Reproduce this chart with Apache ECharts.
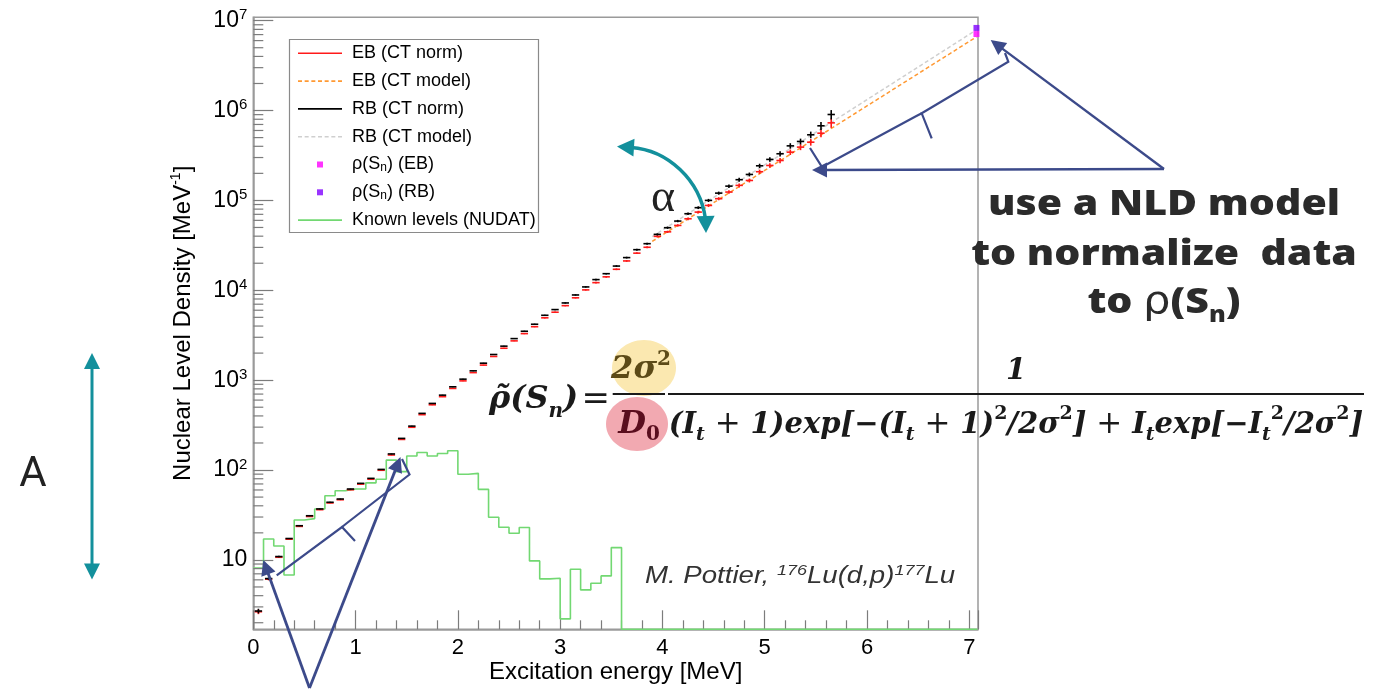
<!DOCTYPE html>
<html>
<head>
<meta charset="utf-8">
<title>Nuclear level density of 177Lu</title>
<script src="https://cdn.jsdelivr.net/npm/echarts@6/dist/echarts.min.js"></script>
<style>
  html, body { margin: 0; padding: 0; background: #fff; }
  #chart { width: 1381px; height: 690px; }
</style>
</head>
<body>
<div id="chart"></div>
<script>
// ---- Data -----------------------------------------------------------------
// Excitation-energy bin centres [MeV]
const binCentres = [
  0.05, 0.15, 0.25, 0.35, 0.45, 0.55, 0.65, 0.75, 0.85, 0.95,
  1.05, 1.15, 1.25, 1.35, 1.45, 1.55, 1.65, 1.75, 1.85, 1.95,
  2.05, 2.15, 2.25, 2.35, 2.45, 2.55, 2.65, 2.75, 2.85, 2.95,
  3.05, 3.15, 3.25, 3.35, 3.45, 3.55, 3.65, 3.75, 3.85, 3.95,
  4.05, 4.15, 4.25, 4.35, 4.45, 4.55, 4.65, 4.75, 4.85, 4.95,
  5.05, 5.15, 5.25, 5.35, 5.45, 5.55, 5.65
];
// RB, normalised with the constant-temperature model [MeV^-1]
const rbNorm = [
  2.7, 6.2, 10.9, 17.3, 24.0, 31.0, 36.9, 43.8, 47.6, 61.5,
  71.1, 80.8, 101.6, 151, 225, 308, 427, 551, 681, 843,
  1026, 1270, 1545, 1930, 2390, 2900, 3500, 4190, 5270, 6100,
  7230, 8870, 10900, 13150, 15300, 18600, 23100, 28300, 33000, 41900,
  49700, 58900, 71100, 83000, 100000, 120500, 144200, 170000, 194500, 242700,
  285800, 330400, 404600, 452900, 537000, 676000, 903600
];
// EB, normalised with the constant-temperature model [MeV^-1]
const ebNorm = [
  2.65, 6.1, 10.7, 17.0, 23.6, 30.4, 36.2, 43.0, 46.7, 60.3,
  69.7, 79.0, 99.4, 147, 219, 299, 413, 532, 655, 809,
  982, 1213, 1471, 1835, 2265, 2736, 3295, 3934, 4939, 5700,
  6745, 8250, 10100, 12165, 14115, 17130, 21210, 25890, 30110, 39800,
  44700, 52700, 62500, 74100, 87900, 104500, 123900, 147000, 166700, 208500,
  244900, 277900, 344300, 391800, 444500, 559600, 729300
];
// Relative statistical uncertainty of each bin
const relErr = [
  0.06, 0.03, 0.02, 0.015, 0.012, 0.01, 0.01, 0.01, 0.01, 0.01,
  0.01, 0.01, 0.01, 0.01, 0.01, 0.01, 0.01, 0.01, 0.01, 0.01,
  0.01, 0.01, 0.01, 0.012, 0.012, 0.012, 0.014, 0.014, 0.015, 0.016,
  0.017, 0.018, 0.019, 0.02, 0.021, 0.022, 0.023, 0.024, 0.025, 0.027,
  0.03, 0.03, 0.035, 0.035, 0.04, 0.04, 0.045, 0.05, 0.05, 0.055,
  0.06, 0.065, 0.07, 0.075, 0.085, 0.1, 0.12
];
// Known discrete levels (NUDAT): lower bin edges [MeV] and density [MeV^-1]
const knownLevelEdges = [
  0.0, 0.1, 0.2, 0.3, 0.4, 0.5, 0.6, 0.7, 0.8, 0.9,
  1.0, 1.1, 1.2, 1.3, 1.4, 1.5, 1.6, 1.7, 1.8, 1.9,
  2.0, 2.1, 2.2, 2.3, 2.4, 2.5, 2.6, 2.7, 2.8, 2.9,
  3.0, 3.1, 3.2, 3.3, 3.4, 3.5, 3.6
];
const knownLevels = [
  8.1, 17.1, 14.3, 6.8, 27.8, 28.8, 36.9, 51.8, 58.9, 61.5,
  61.5, 72, 79, 129, 96, 143, 157, 143, 153, 164,
  89.6, 91.9, 61, 29.8, 23.1, 19.8, 22.9, 9.75, 6.15, 6.25,
  2.21, 7.88, 4.64, 5.5, 6.64, 13.7, 0
];
const knownLevelsTop = 7.08;           // upper edge of the histogram range
// Constant-temperature model curves
const modelEnergies = [3.9, 7.07];
const ebModel = [35000, 6.6e6];
const rbModel = [39600, 7.9e6];
// Density at the neutron separation energy
const snEnergy = 7.07;
const rhoSnEB = 7.1e6;
const rhoSnRB = 8.3e6;

// ---- Axes -----------------------------------------------------------------
const X_MAX = 7.085;
const Y_MIN = 1.69;
const Y_MAX = 1.09e7;
const HALF_BIN = 0.036;                 // half length of the horizontal marker

const yMinorTicks = [];
for (let p = 0; p <= 6; p++) {
  for (let k = 2; k <= 9; k++) {
    const v = k * Math.pow(10, p);
    if (v > Y_MIN && v < Y_MAX) yMinorTicks.push(v);
  }
}

// ---- Colours --------------------------------------------------------------
const RED = '#ff1a1a', BLACK = '#000000', ORANGE = '#ff9933', GREY = '#cfcfcf';
const MAGENTA = '#ff00ff', VIOLET = '#7f00ff', GREEN = '#72d872';
const AXIS = '#9a9a9a', TICK = '#7c7c7c';
const NAVY = '#3c4a8a', TEAL = '#13909c';
const SANS = 'Liberation Sans, Arial, sans-serif';
const MATH = 'DejaVu Serif, serif';

// legend icons: a thin bar, a dashed bar and a small square
const SOLID_ICON = 'path://M0,0H44V1.6H0Z';
let dashPath = '';
for (let i = 0; i < 7; i++) {
  const x0 = (i * 6.66).toFixed(2);
  dashPath += 'M' + x0 + ',0h4v1.6h-4Z';
}
const DASH_ICON = 'path://' + dashPath;
const SQUARE_ICON = 'path://M0,0H6V6H0Z';

// horizontal marker + vertical error bar for each bin
function renderBins(params, api) {
  const e = api.value(0), v = api.value(1), err = api.value(2);
  const a = api.coord([e - HALF_BIN, v]);
  const b = api.coord([e + HALF_BIN, v]);
  const lo = api.coord([e, v * (1 - err)]);
  const hi = api.coord([e, v * (1 + err)]);
  const style = { stroke: api.visual('color'), lineWidth: 1.6 };
  return {
    type: 'group',
    children: [
      { type: 'line', shape: { x1: a[0], y1: a[1], x2: b[0], y2: b[1] }, style: style },
      { type: 'line', shape: { x1: lo[0], y1: lo[1], x2: hi[0], y2: hi[1] }, style: style }
    ]
  };
}

// minor ticks of the logarithmic axis (2..9 in every decade)
function renderMinorTick(params, api) {
  const p = api.coord([0, api.value(1)]);
  return {
    type: 'line',
    shape: { x1: p[0], y1: p[1], x2: p[0] + 10, y2: p[1] },
    style: { stroke: TICK, lineWidth: 1.2 }
  };
}

// ---- Annotation helpers ---------------------------------------------------
function headPoints(tip, from, len, half) {
  const dx = tip[0] - from[0], dy = tip[1] - from[1];
  const d = Math.hypot(dx, dy), ux = dx / d, uy = dy / d;
  const bx = tip[0] - ux * len, by = tip[1] - uy * len;
  return [[tip[0], tip[1]], [bx - uy * half, by + ux * half], [bx + uy * half, by - ux * half]];
}
function arrow(from, tip, color, width, len, half) {
  const dx = tip[0] - from[0], dy = tip[1] - from[1];
  const d = Math.hypot(dx, dy);
  const end = [tip[0] - dx / d * (len * 0.6), tip[1] - dy / d * (len * 0.6)];
  return [
    { type: 'line', z: 10, shape: { x1: from[0], y1: from[1], x2: end[0], y2: end[1] },
      style: { stroke: color, lineWidth: width } },
    { type: 'polygon', z: 10, shape: { points: headPoints(tip, from, len, half) },
      style: { fill: color } }
  ];
}
function polyline(points, color, width) {
  return { type: 'polyline', z: 10, shape: { points: points },
    style: { stroke: color, lineWidth: width, fill: 'none', lineJoin: 'miter' } };
}
function label(x, y, text, style, extra) {
  return Object.assign({ type: 'text', z: 11, x: x, y: y,
    style: Object.assign({ text: text, x: 0, y: 0 }, style) }, extra || {});
}

const mathRich = {
  m: { fontFamily: MATH, fontStyle: 'italic', fontWeight: 'bold', fontSize: 29, lineHeight: 40, fill: '#1a1a1a' },
  s: { fontFamily: MATH, fontStyle: 'italic', fontWeight: 'bold', fontSize: 19, lineHeight: 19, verticalAlign: 'bottom', fill: '#1a1a1a' },
  p: { fontFamily: MATH, fontWeight: 'bold', fontSize: 19, lineHeight: 19, verticalAlign: 'top', fill: '#1a1a1a' },
  r: { fontFamily: MATH, fontSize: 31, lineHeight: 40, fill: '#1a1a1a' },
  big: { fontFamily: MATH, fontStyle: 'italic', fontWeight: 'bold', fontSize: 32, lineHeight: 44, fill: '#1a1a1a' },
  bigs: { fontFamily: MATH, fontStyle: 'italic', fontWeight: 'bold', fontSize: 20, lineHeight: 20, verticalAlign: 'bottom', fill: '#1a1a1a' },
  bigr: { fontFamily: MATH, fontSize: 34, lineHeight: 44, fill: '#1a1a1a' },
  num: { fontFamily: MATH, fontStyle: 'italic', fontWeight: 'bold', fontSize: 32, lineHeight: 40, fill: '#5c4a17' },
  nump: { fontFamily: MATH, fontWeight: 'bold', fontSize: 20, lineHeight: 20, verticalAlign: 'top', fill: '#5c4a17' },
  den: { fontFamily: MATH, fontStyle: 'italic', fontWeight: 'bold', fontSize: 32, lineHeight: 40, fill: '#5a0e1e' },
  dens: { fontFamily: MATH, fontWeight: 'bold', fontSize: 20, lineHeight: 20, verticalAlign: 'bottom', fill: '#5a0e1e' }
};

const annotations = [].concat(
  // amplitude arrow and its label
  [{ type: 'line', z: 10, shape: { x1: 92, y1: 366, x2: 92, y2: 567 }, style: { stroke: TEAL, lineWidth: 3 } },
   { type: 'polygon', z: 10, shape: { points: headPoints([92, 353], [92, 380], 16, 8) }, style: { fill: TEAL } },
   { type: 'polygon', z: 10, shape: { points: headPoints([92, 579.5], [92, 550], 16, 8) }, style: { fill: TEAL } },
   label(33, 475, 'A', { fontFamily: 'Roboto, sans-serif', fontSize: 42, fill: '#222', align: 'center', verticalAlign: 'middle', textAlign: 'center', textVerticalAlign: 'middle' })],
  // slope arrow
  [{ type: 'bezierCurve', z: 10,
     shape: { x1: 631, y1: 147.5, cpx1: 668, cpy1: 150, cpx2: 700, cpy2: 180, x2: 705.5, y2: 219 },
     style: { stroke: TEAL, lineWidth: 3.5, fill: 'none' } },
   { type: 'polygon', z: 10, shape: { points: headPoints([617, 146.5], [640, 148], 17, 9) }, style: { fill: TEAL } },
   { type: 'polygon', z: 10, shape: { points: headPoints([706, 233], [705.5, 210], 17, 9) }, style: { fill: TEAL } },
   label(663, 199, 'α', { fontFamily: 'Liberation Serif, serif', fontSize: 46, fill: '#222', align: 'center', verticalAlign: 'middle', textAlign: 'center', textVerticalAlign: 'middle' })],
  // discrete-level matching region
  arrow([309.5, 688], [263.3, 560], NAVY, 2.8, 15, 7.5),
  arrow([309.5, 688], [400.5, 457], NAVY, 2.8, 15, 7.5),
  [polyline([[276.7, 575.3], [342, 527], [355, 541]], NAVY, 2.2),
   polyline([[342, 527], [347, 523], [409.5, 474.5], [402, 459]], NAVY, 2.2)],
  // extrapolation to the neutron separation energy
  arrow([1164, 169], [812, 170], NAVY, 2.4, 15, 7.5),
  arrow([1164, 169], [990.7, 40], NAVY, 2.4, 15, 7.5),
  [polyline([[1005, 53], [1008.3, 61.7], [921.7, 113.3], [931.7, 138.3]], NAVY, 2.2),
   polyline([[921.7, 113.3], [915, 116.7], [822, 167], [810, 148]], NAVY, 2.2)],
  // message
  [label(1164, 205, 'use a NLD model', { fontFamily: 'Open Sans, sans-serif', fontWeight: 800, fontSize: 36, fill: '#2b2b2b', align: 'center', verticalAlign: 'middle', textAlign: 'center', textVerticalAlign: 'middle' }, { scaleX: 1.14 }),
   label(1164, 255, 'to normalize  data', { fontFamily: 'Open Sans, sans-serif', fontWeight: 800, fontSize: 36, fill: '#2b2b2b', align: 'center', verticalAlign: 'middle', textAlign: 'center', textVerticalAlign: 'middle' }, { scaleX: 1.14 }),
   label(1164, 303, '{b|to }{g|ρ}{b|(S}{s|n}{b|)}', {
     align: 'center', verticalAlign: 'middle', textAlign: 'center', textVerticalAlign: 'middle',
     rich: {
       b: { fontFamily: 'Open Sans, sans-serif', fontWeight: 800, fontSize: 36, lineHeight: 48, fill: '#2b2b2b' },
       g: { fontFamily: 'DejaVu Sans, sans-serif', fontSize: 38, lineHeight: 48, fill: '#2b2b2b' },
       s: { fontFamily: 'Open Sans, sans-serif', fontWeight: 800, fontSize: 22, lineHeight: 22, verticalAlign: 'bottom', fill: '#2b2b2b' }
     } }, { scaleX: 1.14 })],
  // reaction label
  [label(645, 577, '{i|M. Pottier, }{s|176}{i|Lu(d,p)}{s|177}{i|Lu}', {
     align: 'left', verticalAlign: 'middle', textAlign: 'left', textVerticalAlign: 'middle',
     rich: {
       i: { fontFamily: SANS, fontStyle: 'italic', fontSize: 23, lineHeight: 28, fill: '#333' },
       s: { fontFamily: SANS, fontStyle: 'italic', fontSize: 15, lineHeight: 15, verticalAlign: 'top', fill: '#333' }
     } }, { scaleX: 1.2 })],
  // formula for the density at Sn
  [{ type: 'ellipse', z: 10, shape: { cx: 644, cy: 368, rx: 32, ry: 28 }, style: { fill: '#fbe8b0' } },
   { type: 'ellipse', z: 10, shape: { cx: 637, cy: 424, rx: 31, ry: 27 }, style: { fill: '#f2a9b1' } },
   { type: 'line', z: 11, shape: { x1: 612.7, y1: 394, x2: 665, y2: 394 }, style: { stroke: '#1a1a1a', lineWidth: 2 } },
   { type: 'line', z: 11, shape: { x1: 668, y1: 394, x2: 1364, y2: 394 }, style: { stroke: '#1a1a1a', lineWidth: 2 } },
   label(489, 400, '{big|ρ\u0303(S}{bigs|n}{big|)} {bigr|=}', { align: 'left', verticalAlign: 'middle', textAlign: 'left', textVerticalAlign: 'middle', rich: mathRich }),
   label(641, 370, '{num|2σ}{nump|2}', { align: 'center', verticalAlign: 'middle', textAlign: 'center', textVerticalAlign: 'middle', rich: mathRich }),
   label(639, 425, '{den|D}{dens|0}', { align: 'center', verticalAlign: 'middle', textAlign: 'center', textVerticalAlign: 'middle', rich: mathRich }),
   label(1016, 371, '{m|1}', { align: 'center', verticalAlign: 'middle', textAlign: 'center', textVerticalAlign: 'middle', rich: mathRich }),
   label(1016, 425,
     '{m|(I}{s|t}{r| + }{m|1)exp[−(I}{s|t}{r| + }{m|1)}{p|2}{m|/2σ}{p|2}{m|]}{r| + }{m|I}{s|t}{m|exp[−I}{s|t}{p|2}{m|/2σ}{p|2}{m|]}',
     { align: 'center', verticalAlign: 'middle', textAlign: 'center', textVerticalAlign: 'middle', rich: mathRich })],
  // legend frame
  [{ type: 'rect', z: 10, shape: { x: 289.5, y: 39.5, width: 249, height: 193 },
     style: { fill: 'none', stroke: '#8a8a8a', lineWidth: 1.2 } }]
);

// ---- Chart ----------------------------------------------------------------
const chart = echarts.init(document.getElementById('chart'), null, { renderer: 'canvas' });

const legendRich = {
  t: { fontFamily: SANS, fontSize: 18, lineHeight: 18, color: '#000' },
  sub: { fontFamily: SANS, fontSize: 12, lineHeight: 12, verticalAlign: 'bottom', color: '#000' }
};

chart.setOption({
  animation: false,
  backgroundColor: '#ffffff',
  textStyle: { fontFamily: SANS },
  grid: {
    left: 253.3, right: 1381 - 978, top: 17.3, bottom: 690 - 629.3,
    show: true, borderColor: AXIS, borderWidth: 1.5, backgroundColor: 'transparent',
    containLabel: false, outerBoundsMode: 'none'
  },
  legend: {
    orient: 'vertical', left: 298, top: 44.3, padding: 0,
    itemWidth: 44, itemHeight: 6, itemGap: 9.8,
    selectedMode: false, symbolKeepAspect: true,
    textStyle: { fontFamily: SANS, fontSize: 18, lineHeight: 18, color: '#000', padding: [0, 0, 0, 5], rich: legendRich },
    formatter: function (name) {
      if (name === 'ρ(Sn) (EB)') return '{t|ρ(S}{sub|n}{t|) (EB)}';
      if (name === 'ρ(Sn) (RB)') return '{t|ρ(S}{sub|n}{t|) (RB)}';
      return name;
    },
    data: [
      { name: 'EB (CT norm)', icon: SOLID_ICON, itemStyle: { color: RED, borderWidth: 0 } },
      { name: 'EB (CT model)', icon: DASH_ICON, itemStyle: { color: ORANGE, borderWidth: 0 } },
      { name: 'RB (CT norm)', icon: SOLID_ICON, itemStyle: { color: BLACK, borderWidth: 0 } },
      { name: 'RB (CT model)', icon: DASH_ICON, itemStyle: { color: GREY, borderWidth: 0 } },
      { name: 'ρ(Sn) (EB)', icon: SQUARE_ICON, itemStyle: { color: MAGENTA, borderWidth: 0 } },
      { name: 'ρ(Sn) (RB)', icon: SQUARE_ICON, itemStyle: { color: VIOLET, borderWidth: 0 } },
      { name: 'Known levels (NUDAT)', icon: SOLID_ICON, itemStyle: { color: GREEN, borderWidth: 0 } }
    ]
  },
  xAxis: {
    type: 'value', min: 0, max: X_MAX, interval: 1,
    name: 'Excitation energy [MeV]', nameLocation: 'middle', nameGap: 29, nameMoveOverlap: false,
    nameTextStyle: { fontFamily: SANS, fontSize: 24, lineHeight: 28, color: '#000' },
    axisLine: { show: true, onZero: false, lineStyle: { color: AXIS, width: 1.5 } },
    axisTick: { show: true, inside: true, length: 19, lineStyle: { color: TICK, width: 1.2 } },
    minorTick: { show: true, splitNumber: 5, length: 9, lineStyle: { color: TICK, width: 1.2 } },
    splitLine: { show: false },
    axisLabel: { show: true, margin: 8, fontFamily: SANS, fontSize: 22, color: '#000', showMaxLabel: false }
  },
  yAxis: {
    type: 'log', logBase: 10, min: Y_MIN, max: Y_MAX,
    name: '{a|Nuclear Level Density [MeV}{s|-1}{a|]}', nameLocation: 'middle', nameRotate: 90,
    nameGap: 56, nameMoveOverlap: false,
    nameTextStyle: {
      fontFamily: SANS, fontSize: 24, color: '#000',
      rich: {
        a: { fontFamily: SANS, fontSize: 24, lineHeight: 28, color: '#000' },
        s: { fontFamily: SANS, fontSize: 14, lineHeight: 14, verticalAlign: 'top', color: '#000' }
      }
    },
    axisLine: { show: true, onZero: false, lineStyle: { color: AXIS, width: 1.5 } },
    axisTick: { show: true, inside: true, length: 20, lineStyle: { color: TICK, width: 1.2 } },
    minorTick: { show: false },
    splitLine: { show: false },
    axisLabel: {
      show: true, margin: 6, showMinLabel: false, showMaxLabel: false,
      formatter: function (v) {
        const n = Math.round(Math.log10(v));
        return n === 1 ? '{b|10}' : '{b|10}{p|' + n + '}';
      },
      rich: {
        b: { fontFamily: SANS, fontSize: 23, lineHeight: 26, color: '#000' },
        p: { fontFamily: SANS, fontSize: 15, lineHeight: 15, verticalAlign: 'top', color: '#000' }
      }
    }
  },
  series: [
    {
      name: 'Known levels (NUDAT)', type: 'line', step: 'end', symbol: 'none', clip: false,
      // empty bins rest on the floor of the logarithmic frame
      data: knownLevelEdges.map(function (e, i) {
        return [e, knownLevels[i] > 0 ? knownLevels[i] : Y_MIN];
      }).concat([[knownLevelsTop, knownLevels[knownLevels.length - 1] > 0 ? knownLevels[knownLevels.length - 1] : Y_MIN]]),
      lineStyle: { color: GREEN, width: 1.6 }, itemStyle: { color: GREEN }, z: 2
    },
    {
      name: 'RB (CT model)', type: 'line', symbol: 'none',
      data: modelEnergies.map(function (e, i) { return [e, rbModel[i]]; }),
      lineStyle: { color: GREY, width: 1.5, type: [4, 2.6] }, itemStyle: { color: GREY }, z: 3
    },
    {
      name: 'EB (CT model)', type: 'line', symbol: 'none',
      data: modelEnergies.map(function (e, i) { return [e, ebModel[i]]; }),
      lineStyle: { color: ORANGE, width: 1.5, type: [4, 2.6] }, itemStyle: { color: ORANGE }, z: 3
    },
    {
      name: 'EB (CT norm)', type: 'custom', renderItem: renderBins,
      data: binCentres.map(function (e, i) { return [e, ebNorm[i], relErr[i]]; }),
      encode: { x: 0, y: 1 }, itemStyle: { color: RED }, z: 4
    },
    {
      name: 'RB (CT norm)', type: 'custom', renderItem: renderBins,
      data: binCentres.map(function (e, i) { return [e, rbNorm[i], relErr[i]]; }),
      encode: { x: 0, y: 1 }, itemStyle: { color: BLACK }, z: 5
    },
    {
      name: 'ρ(Sn) (EB)', type: 'scatter', symbol: 'rect', symbolSize: 6,
      data: [[snEnergy, rhoSnEB]], itemStyle: { color: MAGENTA }, z: 6
    },
    {
      name: 'ρ(Sn) (RB)', type: 'scatter', symbol: 'rect', symbolSize: 6,
      data: [[snEnergy, rhoSnRB]], itemStyle: { color: VIOLET }, z: 6
    },
    {
      name: 'log minor ticks', type: 'custom', renderItem: renderMinorTick, silent: true,
      data: yMinorTicks.map(function (v) { return [0, v]; }),
      encode: { x: 0, y: 1 }, z: 7
    }
  ],
  graphic: { elements: annotations }
});
</script>
</body>
</html>
